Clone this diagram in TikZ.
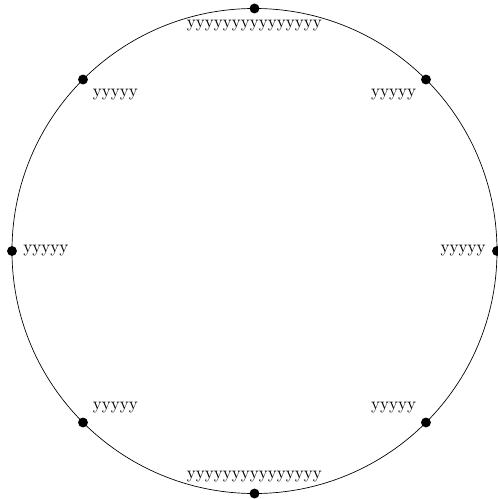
\documentclass[tikz,border=0pt]{standalone}
\usepackage{tikz}
\begin{document}
\begin{tikzpicture}
    \tikzstyle{dot} = [fill, circle, minimum size=5.8pt, inner sep=0pt]
	\useasboundingbox (-5.247,-5.113) rectangle (5.0,5.175);
	\begin{scope}
		\draw (0,0) circle (5cm);
		\path
			node[dot, label={270:yyyyyyyyyyyyyyy}] (N) at (90:5) {}
			node[dot, label={315:yyyyy}] (NW) at (135:5) {}
			node[dot, label={0:yyyyy}] (W) at (180:5) {}
			node[dot, label={45:yyyyy}] (SW) at (225:5) {}
			node[dot, label={90:yyyyyyyyyyyyyyy}] (S) at (270:5) {}
			node[dot, label={135:yyyyy}] (SE) at (315:5) {}
			node[dot, label={180:yyyyy}] (E) at (0:5) {}
			node[dot, label={225:yyyyy}] (NE) at (45:5) {}
		;
	\end{scope}
\end{tikzpicture}
\end{document}
